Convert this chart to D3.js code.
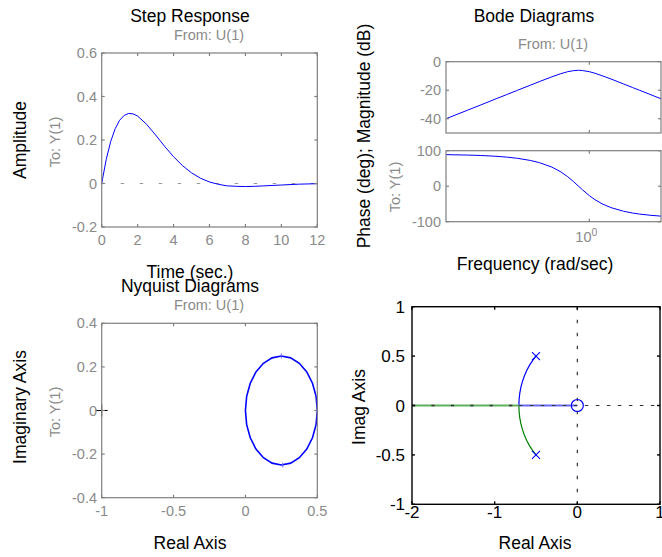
<!DOCTYPE html>
<html>
<head>
<meta charset="utf-8">
<script src="https://cdn.jsdelivr.net/npm/d3@7"></script>
<style>
  body { margin: 0; background: #fff; }
  svg { display: block; font-family: "Liberation Sans", Arial, sans-serif; }
</style>
</head>
<body>
<svg id="fig" width="662" height="557"></svg>
<script>
// ---- data ----
// step response
const stepTime = [0, 0.25, 0.5, 0.75, 1, 1.25, 1.5, 1.75, 2, 2.5, 3, 3.5, 4, 4.5, 5, 5.5, 6, 6.5, 7, 7.5, 8, 8.5, 9, 10, 11, 12];
const stepAmp = [0, 0.110, 0.193, 0.252, 0.291, 0.313, 0.322, 0.320, 0.310, 0.272, 0.223, 0.171, 0.123, 0.082, 0.049, 0.024, 0.007, -0.004, -0.011, -0.013, -0.014, -0.013, -0.011, -0.007, -0.003, -0.001];
const stepXTicks = [0, 2, 4, 6, 8, 10, 12];
const stepYTicks = [-0.2, 0, 0.2, 0.4, 0.6];

// bode
const bodeFreq = [0.01, 0.02, 0.03, 0.05, 0.07, 0.1, 0.15, 0.2, 0.3, 0.4, 0.5, 0.6, 0.707, 0.8, 1, 1.2, 1.5, 2, 3, 4, 5, 7, 10];
const bodeMagDb = [-40, -34, -30.5, -26, -23.1, -20, -16.5, -14, -10.6, -8.4, -7, -6.3, -6, -6.2, -7, -8.1, -9.8, -12.1, -15.6, -18.1, -20, -22.9, -26];
const bodePhaseDeg = [88.9, 87.7, 86.6, 84.3, 82, 78.5, 72.6, 66.5, 53.8, 40.4, 26.6, 13.1, 0, -9.9, -26.6, -38.1, -49.4, -60.3, -70.6, -75.5, -78.5, -81.8, -84.3];
const magTicks = [-40, -20, 0];
const phaseTicks = [-100, 0, 100];
const freqTicks = [1];

// nyquist (closed loop of the curve)
const nyqRe = [0.5, 0.4915, 0.4665, 0.4268, 0.375, 0.3147, 0.25, 0.1853, 0.125, 0.0732, 0.0335, 0.0085, 0, 0.0085, 0.0335, 0.0732, 0.125, 0.1853, 0.25, 0.3147, 0.375, 0.4268, 0.4665, 0.4915];
const nyqIm = [0, 0.0647, 0.125, 0.1768, 0.2165, 0.2415, 0.25, 0.2415, 0.2165, 0.1768, 0.125, 0.0647, 0, -0.0647, -0.125, -0.1768, -0.2165, -0.2415, -0.25, -0.2415, -0.2165, -0.1768, -0.125, -0.0647];
const nyqArrowRe = [0.25, 0.26];
const nyqArrowIm = [0.25, -0.25];
const nyqXTicks = [-1, -0.5, 0, 0.5];
const nyqYTicks = [-0.4, -0.2, 0, 0.2, 0.4];

// root locus
const rlBlueRe = [-0.5, -0.5417, -0.5792, -0.6124, -0.6409, -0.6645, -0.683, -0.6964, -0.7044, -0.7071, 0];
const rlBlueIm = [0.5, 0.4545, 0.4056, 0.3536, 0.2988, 0.2418, 0.183, 0.1228, 0.0616, 0, 0];
const rlGreenRe = [-0.5, -0.5417, -0.5792, -0.6124, -0.6409, -0.6645, -0.683, -0.6964, -0.7044, -0.7071, -2];
const rlGreenIm = [-0.5, -0.4545, -0.4056, -0.3536, -0.2988, -0.2418, -0.183, -0.1228, -0.0616, 0, 0];
const rlPoleRe = [-0.5, -0.5];
const rlPoleIm = [0.5, -0.5];
const rlZeroRe = [0];
const rlZeroIm = [0];
const rlXTicks = [-2, -1, 0, 1];
const rlYTicks = [-1, -0.5, 0, 0.5, 1];

const svg = d3.select('#fig');
const FRAME = '#7f7f7f';
const GREYTXT = '#8a8a8a';
const BLUE = '#0000ff';

svg.append('rect').attr('width', 662).attr('height', 557).attr('fill', '#fff');

// box with inward ticks on all four sides
function axesBox(x, y, xt, yt, color, sw) {
  const [x0, x1] = x.range(), [y0, y1] = y.range();
  const g = svg.append('g').attr('stroke', color).attr('stroke-width', sw).attr('fill', 'none');
  const tl = 3;
  xt.forEach(v => {
    const px = x(v);
    g.append('line').attr('x1', px).attr('x2', px).attr('y1', y0).attr('y2', y0 - tl);
    g.append('line').attr('x1', px).attr('x2', px).attr('y1', y1).attr('y2', y1 + tl);
  });
  yt.forEach(v => {
    const py = y(v);
    g.append('line').attr('x1', x0).attr('x2', x0 + tl).attr('y1', py).attr('y2', py);
    g.append('line').attr('x1', x1).attr('x2', x1 - tl).attr('y1', py).attr('y2', py);
  });
  g.append('rect').attr('x', x0).attr('y', y1).attr('width', x1 - x0).attr('height', y0 - y1);
}

function text(x, y, s, opts = {}) {
  const t = svg.append('text')
    .attr('x', x).attr('y', y)
    .attr('font-size', opts.size || 17.5)
    .attr('fill', opts.color || '#000')
    .attr('text-anchor', opts.anchor || 'middle')
    .text(s);
  if (opts.rotate) t.attr('transform', `rotate(-90,${x},${y})`);
  return t;
}

function yTickLabels(y, ticks, xr, fmt, opts) {
  ticks.forEach(v => text(xr, y(v) + (opts.dy || 5), fmt(v), { size: opts.size, color: opts.color, anchor: 'end' }));
}
function xTickLabels(x, ticks, yb, fmt, opts) {
  ticks.forEach(v => text(x(v), yb, fmt(v), { size: opts.size, color: opts.color }));
}

const fmt = d => String(d);
const line = (x, y) => d3.line().x(d => x(d[0])).y(d => y(d[1]));

// ---------- Step Response ----------
{
  const x = d3.scaleLinear().domain([0, 12]).range([101.7, 317.3]);
  const y = d3.scaleLinear().domain([-0.2, 0.6]).range([227, 53]);
  svg.append('line')
    .attr('x1', x(0)).attr('x2', x(12)).attr('y1', y(0)).attr('y2', y(0))
    .attr('stroke', '#999').attr('stroke-width', 1).attr('stroke-dasharray', '3.5,15.5');
  svg.append('path')
    .datum(stepTime.map((t, i) => [t, stepAmp[i]]))
    .attr('d', line(x, y)).attr('fill', 'none').attr('stroke', BLUE).attr('stroke-width', 1);
  axesBox(x, y, stepXTicks, stepYTicks, FRAME, 1.2);
  yTickLabels(y, stepYTicks, 97, fmt, { size: 14.5, color: GREYTXT });
  xTickLabels(x, stepXTicks, 245, fmt, { size: 14.5, color: GREYTXT });
  text(190, 22, 'Step Response');
  text(209, 40, 'From: U(1)', { size: 14.5, color: GREYTXT });
  text(26, 140, 'Amplitude', { rotate: true });
  text(60, 142, 'To: Y(1)', { size: 14.5, color: GREYTXT, rotate: true });
  text(190, 277.5, 'Time (sec.)');
}

// ---------- Bode Diagrams ----------
{
  const x = d3.scaleLog().domain([0.01, 10]).range([446, 661]);
  const yMag = d3.scaleLinear().domain([-50, 0]).range([133, 61.7]);
  const yPh = d3.scaleLinear().domain([-100, 100]).range([221.7, 150.7]);
  svg.append('path')
    .datum(bodeFreq.map((w, i) => [w, bodeMagDb[i]]))
    .attr('d', line(x, yMag)).attr('fill', 'none').attr('stroke', BLUE).attr('stroke-width', 1);
  svg.append('path')
    .datum(bodeFreq.map((w, i) => [w, bodePhaseDeg[i]]))
    .attr('d', line(x, yPh)).attr('fill', 'none').attr('stroke', BLUE).attr('stroke-width', 1);
  axesBox(x, yMag, freqTicks, magTicks, FRAME, 1.2);
  axesBox(x, yPh, freqTicks, phaseTicks, FRAME, 1.2);
  yTickLabels(yMag, magTicks, 441, fmt, { size: 14.5, color: GREYTXT });
  yTickLabels(yPh, phaseTicks, 441, fmt, { size: 14.5, color: GREYTXT });
  freqTicks.forEach(v => {
    const t = text(x(v) - 3, 242, '10', { size: 14.5, color: GREYTXT });
    t.append('tspan').attr('dy', -6).attr('font-size', 10.5).text('0');
  });
  text(534, 22, 'Bode Diagrams');
  text(553, 48.5, 'From: U(1)', { size: 14.5, color: GREYTXT });
  text(370, 136, 'Phase (deg); Magnitude (dB)', { rotate: true });
  text(400, 187, 'To: Y(1)', { size: 14.5, color: GREYTXT, rotate: true });
  text(535, 269.5, 'Frequency (rad/sec)');
}

// ---------- Nyquist Diagrams ----------
{
  const x = d3.scaleLinear().domain([-1, 0.5]).range([101.7, 317.3]);
  const y = d3.scaleLinear().domain([-0.4, 0.4]).range([497.7, 323.3]);
  svg.append('path')
    .datum(nyqRe.map((r, i) => [r, nyqIm[i]]))
    .attr('d', line(x, y).curve(d3.curveLinearClosed))
    .attr('fill', 'none').attr('stroke', BLUE).attr('stroke-width', 1.6);
  // small direction marks
  nyqArrowRe.forEach((r, i) => {
    const px = x(r), py = y(nyqArrowIm[i]);
    svg.append('line').attr('x1', px).attr('x2', px).attr('y1', py - 2.5).attr('y2', py + 2.5)
      .attr('stroke', '#6a6aff').attr('stroke-width', 1);
  });
  // critical point marker
  const cx = x(-1), cy = y(0);
  svg.append('path')
    .attr('d', `M${cx - 6},${cy}H${cx + 6}M${cx},${cy - 6}V${cy + 6}`)
    .attr('stroke', '#000').attr('stroke-width', 1);
  axesBox(x, y, nyqXTicks, nyqYTicks, FRAME, 1.2);
  yTickLabels(y, nyqYTicks, 97, fmt, { size: 14.5, color: GREYTXT });
  xTickLabels(x, nyqXTicks, 516, fmt, { size: 14.5, color: GREYTXT });
  text(190, 291.5, 'Nyquist Diagrams');
  text(209, 310, 'From: U(1)', { size: 14.5, color: GREYTXT });
  text(26, 407, 'Imaginary Axis', { rotate: true });
  text(60, 412, 'To: Y(1)', { size: 14.5, color: GREYTXT, rotate: true });
  text(190, 549.3, 'Real Axis');
}

// ---------- Root Locus ----------
{
  const x = d3.scaleLinear().domain([-2, 1]).range([412, 660]);
  const y = d3.scaleLinear().domain([-1, 1]).range([504.3, 306.7]);
  svg.append('clipPath').attr('id', 'rlclip')
    .append('rect').attr('x', 412).attr('y', 306.7).attr('width', 248).attr('height', 197.6);
  const g = svg.append('g').attr('clip-path', 'url(#rlclip)');
  const green = rlGreenRe.map((r, i) => [r, rlGreenIm[i]]);
  const blue = rlBlueRe.map((r, i) => [r, rlBlueIm[i]]);
  // branches off the real axis
  g.append('path').datum(green.slice(0, 10))
    .attr('d', line(x, y)).attr('fill', 'none').attr('stroke', '#008000').attr('stroke-width', 1.2);
  g.append('path').datum(blue.slice(0, 10))
    .attr('d', line(x, y)).attr('fill', 'none').attr('stroke', BLUE).attr('stroke-width', 1.2);
  // real-axis segments (look lighter/wider in the reference)
  g.append('path').datum(green.slice(9))
    .attr('d', line(x, y)).attr('fill', 'none').attr('stroke', '#5fb05f').attr('stroke-width', 2);
  g.append('path').datum(blue.slice(9))
    .attr('d', line(x, y)).attr('fill', 'none').attr('stroke', '#6a6aff').attr('stroke-width', 2);
  // dotted axes through origin
  g.append('line').attr('x1', x(-2)).attr('x2', x(-0.7071)).attr('y1', y(0)).attr('y2', y(0))
    .attr('stroke', '#333').attr('stroke-width', 1.5).attr('stroke-dasharray', '3.3,16.1');
  g.append('line').attr('x1', x(-0.7071)).attr('x2', x(1)).attr('y1', y(0)).attr('y2', y(0))
    .attr('stroke', '#333').attr('stroke-width', 1.2).attr('stroke-dasharray', '3.5,7.5');
  g.append('line').attr('x1', x(0)).attr('x2', x(0)).attr('y1', y(1)).attr('y2', y(-1))
    .attr('stroke', '#333').attr('stroke-width', 1.2).attr('stroke-dasharray', '3.5,9.5');
  // poles
  rlPoleRe.forEach((r, i) => {
    const px = x(r), py = y(rlPoleIm[i]), s = 4;
    g.append('path')
      .attr('d', `M${px - s},${py - s}L${px + s},${py + s}M${px - s},${py + s}L${px + s},${py - s}`)
      .attr('stroke', BLUE).attr('stroke-width', 1.1);
  });
  // zeros
  rlZeroRe.forEach((r, i) => {
    g.append('circle').attr('cx', x(r)).attr('cy', y(rlZeroIm[i])).attr('r', 6)
      .attr('fill', 'none').attr('stroke', BLUE).attr('stroke-width', 1.2);
  });
  axesBox(x, y, rlXTicks, rlYTicks, '#000', 1.4);
  yTickLabels(y, rlYTicks, 405, fmt, { size: 17, dy: 6 });
  xTickLabels(x, rlXTicks, 518, fmt, { size: 17 });
  text(365, 407, 'Imag Axis', { rotate: true });
  text(535, 549.3, 'Real Axis');
}
</script>
</body>
</html>
